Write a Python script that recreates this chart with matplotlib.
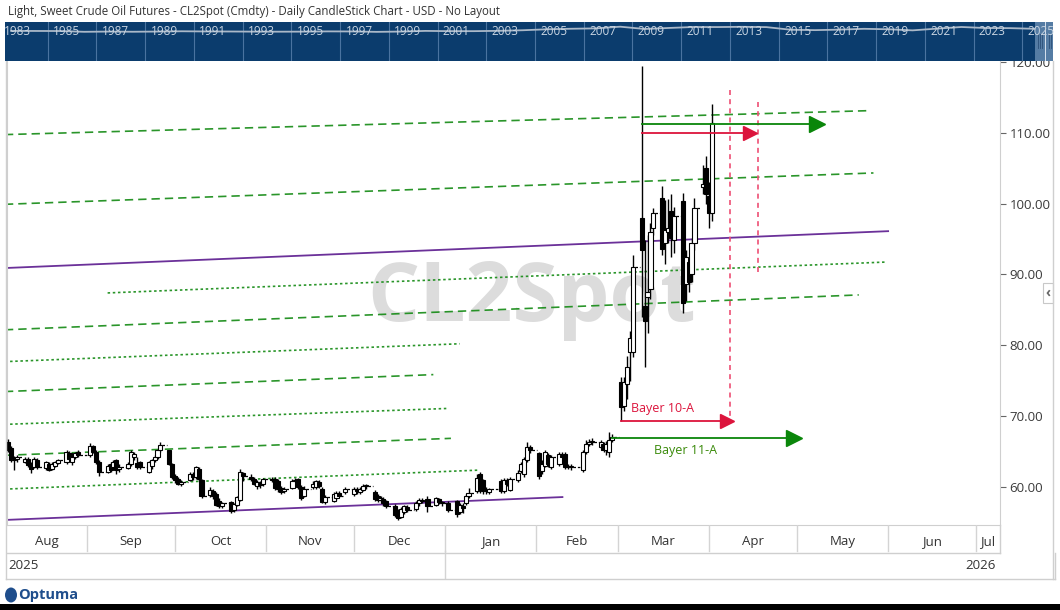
import matplotlib
matplotlib.use("Agg")
import matplotlib.pyplot as plt
import matplotlib.dates as mdates
from matplotlib.patches import Rectangle, Ellipse
from matplotlib.lines import Line2D
from matplotlib.ticker import FormatStrFormatter
import numpy as np
import pandas as pd

plt.rcParams['font.family'] = ['Open Sans', 'DejaVu Sans']

W, H = 1060, 610
title = "Light, Sweet Crude Oil Futures - CL2Spot (Cmdty) - Daily CandleStick Chart - USD - No Layout"

# trading days, Aug 2025 - Apr 2026 (exchange holidays removed)
first_day, last_day = "2025-08-05", "2026-04-02"
holidays = ["2025-09-01", "2025-11-27", "2025-12-25", "2026-01-01", "2026-01-19", "2026-02-16"]

opens = [
    66.3, 65.5, 63.8, 64.0, 63.6, 64.0, 63.3, 62.9, 63.8, 62.7, 63.3, 62.6, 63.0, 63.4, 63.6, 64.8, 63.5, 64.3, 64.9,  # Aug
    64.5, 65.8, 65.0, 63.5, 62.2, 63.3, 62.8, 63.8, 62.5, 62.7, 63.2, 64.3, 63.4, 63.5, 62.2, 63.0, 63.8, 64.2, 65.2, 65.2, 63.3,  # Sep
    61.6, 61.2, 60.5, 61.0, 61.9, 61.4, 62.6, 61.0, 58.9, 59.5, 59.0, 58.1, 57.3, 57.9, 56.8, 57.5, 58.2, 62.0, 61.5, 61.2, 60.1, 60.6, 60.4,  # Oct
    61.2, 61.2, 60.8, 59.9, 59.4, 59.9, 60.8, 61.2, 60.0, 58.8, 60.0, 60.0, 60.7, 59.8, 57.9, 58.0, 58.4, 59.2, 59.3,  # Nov
    59.0, 59.7, 59.3, 59.6, 60.1, 59.3, 58.8, 58.2, 58.3, 58.0, 57.4, 56.6, 55.8, 56.5, 57.2, 56.9, 57.7, 58.2, 58.3, 57.5, 58.3, 57.9,  # Dec
    57.8, 58.0, 56.5, 57.4, 57.7, 58.8, 59.4, 61.8, 61.0, 59.4, 59.3, 60.9, 59.4, 61.0, 59.6, 61.0, 62.3, 61.8, 63.8, 65.6,  # Jan
    64.8, 62.3, 63.0, 64.5, 62.9, 63.2, 64.6, 64.7, 62.9, 62.8, 62.4, 64.9, 66.1, 66.4, 65.7, 66.1, 65.2, 64.9, 66.6,  # Feb
    74.8, 71.5, 74.5, 79.0, 79.0, 97.9, 85.6, 86.8, 88.0, 96.6, 100.8, 94.4, 96.0, 99.0, 94.8, 100.4, 88.7, 91.7, 90.0, 94.5,
    102.4, 105.0, 101.0, 98.7,  # Mar / Apr
]
highs = [
    66.8, 65.8, 64.4, 64.5, 64.3, 64.2, 63.5, 64.2, 64.1, 63.7, 63.5, 63.5, 63.7, 64.0, 65.2, 65.1, 64.5, 65.0, 65.2,
    66.2, 66.0, 65.2, 63.8, 63.2, 63.6, 63.8, 64.0, 63.2, 63.5, 65.2, 65.0, 64.2, 63.7, 63.7, 64.0, 64.5, 65.4, 66.4, 65.2, 63.4,
    61.9, 61.4, 61.0, 62.1, 62.2, 63.0, 62.8, 61.2, 60.0, 59.8, 59.3, 58.4, 57.9, 58.0, 57.8, 58.8, 62.5, 62.2, 61.8, 61.4, 61.0, 60.9, 61.3,
    61.5, 61.4, 61.1, 60.2, 60.0, 61.1, 61.3, 61.3, 60.3, 60.2, 60.8, 61.0, 61.0, 60.0, 58.9, 59.3, 59.5, 59.4, 60.0,
    60.0, 60.0, 60.0, 60.4, 60.5, 59.6, 59.0, 58.8, 58.6, 58.2, 57.6, 56.9, 57.2, 57.5, 57.5, 58.1, 58.5, 58.4, 58.8, 58.6, 58.5, 58.0,
    58.0, 58.2, 57.8, 57.8, 59.0, 59.9, 61.8, 62.2, 61.2, 60.0, 59.9, 61.2, 61.3, 61.3, 61.5, 62.4, 63.6, 64.3, 66.4, 66.0,
    65.0, 63.8, 65.3, 64.8, 64.6, 65.0, 65.0, 65.0, 63.3, 63.2, 65.2, 66.6, 66.8, 66.9, 66.6, 66.4, 66.5, 67.8, 67.5,
    75.5, 75.5, 78.5, 82.0, 92.7, 119.4, 94.8, 95.5, 97.2, 99.3, 102.5, 100.5, 100.7, 101.4, 99.5, 101.5, 93.4, 92.5, 95.1, 100.8,
    105.4, 106.7, 103.0, 114.1,
]
lows = [
    65.0, 63.5, 62.4, 63.6, 63.4, 62.9, 62.0, 62.7, 62.6, 62.4, 62.3, 62.4, 62.8, 63.2, 63.3, 63.7, 63.1, 64.0, 64.2,
    64.3, 64.8, 63.2, 61.6, 62.0, 62.2, 62.6, 61.8, 62.2, 62.5, 63.0, 63.8, 62.6, 62.6, 62.0, 62.6, 63.5, 64.0, 65.0, 63.1, 61.2,
    60.6, 60.3, 60.2, 60.8, 61.0, 61.2, 60.9, 58.5, 58.6, 58.3, 57.3, 57.0, 57.0, 56.4, 56.5, 57.3, 58.0, 60.9, 60.9, 60.3, 59.8, 59.9, 60.1,
    60.7, 59.6, 59.3, 59.0, 59.2, 59.7, 60.5, 59.8, 58.2, 58.6, 59.7, 59.8, 59.9, 57.7, 57.6, 57.9, 58.2, 58.6, 59.1,
    58.8, 59.1, 59.1, 59.4, 59.8, 58.1, 57.9, 57.9, 57.4, 57.0, 55.8, 55.3, 55.6, 56.2, 56.5, 56.7, 57.4, 57.8, 56.5, 57.3, 57.6, 57.4,
    56.5, 55.8, 56.2, 56.4, 57.5, 58.5, 59.2, 59.2, 59.1, 59.1, 59.1, 59.2, 59.2, 60.2, 59.4, 60.7, 62.0, 61.4, 63.5, 64.8,
    61.2, 61.8, 62.8, 62.9, 62.6, 63.0, 63.9, 62.6, 62.5, 62.4, 62.1, 64.7, 65.8, 65.9, 65.5, 64.9, 64.5, 64.3, 66.3,
    69.3, 70.8, 72.5, 75.0, 78.3, 84.0, 76.9, 81.8, 86.5, 95.5, 92.8, 91.5, 94.5, 92.4, 93.0, 84.5, 86.3, 87.5, 89.0, 93.5,
    101.4, 100.0, 96.6, 97.6,
]
closes = [
    65.2, 63.8, 64.0, 64.3, 64.0, 63.1, 62.6, 64.0, 62.8, 63.5, 62.4, 63.3, 63.5, 63.8, 65.0, 63.9, 64.3, 64.8, 64.5,
    65.8, 65.0, 63.5, 62.2, 63.0, 62.4, 63.5, 62.4, 62.8, 63.3, 65.0, 64.7, 62.9, 62.8, 63.5, 63.8, 64.3, 65.2, 66.0, 63.3, 61.5,
    61.0, 60.5, 60.7, 61.9, 61.4, 62.8, 61.1, 58.7, 59.6, 58.7, 57.5, 57.3, 57.7, 56.6, 57.6, 58.6, 62.1, 61.6, 61.2, 60.5, 60.7, 60.3, 61.2,
    61.0, 59.9, 59.7, 59.3, 59.8, 60.8, 61.0, 60.0, 58.4, 59.8, 60.5, 60.8, 60.2, 57.9, 58.6, 59.1, 59.2, 58.8, 59.8,
    59.7, 59.4, 59.7, 60.2, 60.2, 58.3, 58.2, 58.5, 57.7, 57.4, 56.0, 55.6, 56.9, 57.3, 56.8, 57.8, 58.2, 58.1, 57.3, 58.4, 57.9, 57.7,
    56.8, 56.2, 57.5, 57.0, 58.8, 59.2, 61.3, 59.6, 59.4, 59.6, 59.7, 59.5, 61.0, 60.5, 61.2, 62.0, 63.3, 64.0, 65.7, 65.2,
    61.6, 63.3, 64.9, 63.3, 64.3, 64.7, 64.2, 62.8, 62.8, 62.9, 64.9, 66.1, 66.4, 66.3, 66.4, 65.2, 66.1, 66.6, 67.1,
    71.3, 74.8, 77.0, 81.0, 91.0, 93.4, 83.5, 87.5, 96.0, 98.7, 93.6, 96.2, 96.5, 95.2, 98.3, 86.0, 92.4, 89.0, 94.5, 99.4,
    102.8, 101.4, 98.7, 111.3,
]

# drawn lines: start date, start price, end date, end price, style, colour
trend_lines = [
    ("2025-08-04", 90.90, "2026-06-01", 96.10, "solid", "#5b1a8e"),
    ("2025-08-04", 55.37, "2026-02-10", 58.60, "solid", "#5b1a8e"),
    ("2025-08-04", 109.72, "2026-05-25", 113.09, "dashed", "#138a13"),
    ("2025-08-04", 99.89, "2026-05-27", 104.31, "dashed", "#138a13"),
    ("2025-09-08", 87.39, "2026-05-31", 91.74, "dotted", "#138a13"),
    ("2025-08-04", 82.19, "2026-05-22", 87.11, "dashed", "#138a13"),
    ("2025-08-04", 77.70, "2026-01-06", 80.22, "dotted", "#138a13"),
    ("2025-08-04", 73.48, "2025-12-28", 75.87, "dashed", "#138a13"),
    ("2025-08-04", 68.85, "2026-01-02", 71.10, "dotted", "#138a13"),
    ("2025-08-04", 64.49, "2026-01-03", 66.88, "dashed", "#138a13"),
    ("2025-08-04", 59.72, "2026-01-12", 62.39, "dotted", "#138a13"),
]
# horizontal projection arrows: start date, tip date, price, colour, head size
arrows = [
    ("2026-03-02", "2026-04-09 12:00", 69.3, "#dc143c", 10),
    ("2026-02-27", "2026-05-02 16:00", 67.0, "#0a860a", 11.5),
    ("2026-03-09", "2026-05-10 12:00", 111.26, "#0a860a", 11),
    ("2026-03-09", "2026-04-17 10:00", 110.0, "#dc143c", 10.5),
]
# vertical time markers: date, top price, bottom price
time_marks = [("2026-04-08 05:00", 116.0, 69.3), ("2026-04-17 16:00", 114.3, 89.8)]
labels = [("Bayer 10-A", "2026-03-16", 71.1, "#dc143c"), ("Bayer 11-A", "2026-03-24", 65.1, "#3a8a0a")]

price_ticks = [60, 70, 80, 90, 100, 110, 120]
view = ("2025-08-04 17:00", "2026-07-09 03:00")
price_range = (54.66, 120.1)

# navigator: yearly average price since 1983
nav_years = list(range(1983, 2026))
nav_prices = [30, 29, 28, 15, 19, 16, 19, 24, 21, 20, 18, 17, 18, 22, 21, 14, 19, 30, 26, 26, 31, 41,
              57, 66, 72, 100, 62, 79, 95, 94, 98, 93, 49, 43, 51, 65, 57, 39, 68, 95, 78, 76, 65]
nav_labels = list(range(1983, 2026, 2))


def fbox(x0, y0, x1, y1):
    return [x0 / W, 1 - y1 / H, (x1 - x0) / W, (y1 - y0) / H]


fig = plt.figure(figsize=(W / 100, H / 100), dpi=100)
fig.patch.set_facecolor("white")

# ---- price panel
ax = fig.add_axes(fbox(7, 61, 1000, 525))
days = pd.bdate_range(first_day, last_day)
days = days[~days.isin(pd.to_datetime(holidays))]
assert len(days) == len(opens) == len(highs) == len(lows) == len(closes)
x = mdates.date2num(days)
o, h, l, c = map(np.array, (opens, highs, lows, closes))
up = c >= o
bw = 1.4

ax.text(0.528, 0.487, "CL2Spot", transform=ax.transAxes, fontsize=59, fontweight="bold",
        color="#dcdcdc", ha="center", va="center", zorder=0)

styles = {"solid": "-", "dashed": (0, (5, 3)), "dotted": (0, (1.5, 1.6))}
for d0, p0, d1, p1, st, col in trend_lines:
    ax.plot(pd.to_datetime([d0, d1]), [p0, p1], color=col, ls=styles[st],
            lw=1.3 if st == "solid" else 1.2, alpha=0.9, zorder=2)

for d, top, bot_p in time_marks:
    ax.plot(pd.to_datetime([d, d]), [top, bot_p], color="#ee4f74", ls=(0, (3, 2.5)), lw=1.2, zorder=2)

# weekend / holiday gaps
for i in np.where(np.diff(x) > 1.5)[0]:
    ax.plot([x[i] + bw / 2, x[i + 1] - bw / 2], [c[i], c[i]], color="black", lw=0.9,
            ls=(0, (2, 1.5)), zorder=3)

ax.vlines(x, l, h, color="black", lw=1.0, zorder=3)
ax.bar(x, np.maximum(np.abs(c - o), 0.15), bw, np.minimum(o, c),
       color=np.where(up, "white", "black"), edgecolor="black", lw=0.8, zorder=4)

for d0, tip, p, col, ms in arrows:
    tip = pd.Timestamp(tip)
    head = pd.Timedelta(days=ms / 0.72 / 2 / 2.934)
    ax.plot([pd.Timestamp(d0), tip - head], [p, p], color=col, lw=1.3, zorder=5)
    ax.plot([tip - head], [p], marker=">", ms=ms, color=col, mec=col, zorder=5)

for txt, d, p, col in labels:
    ax.text(pd.Timestamp(d), p, txt, color=col, fontsize=9, ha="center", va="center", zorder=5)

ax.set_xlim(pd.Timestamp(view[0]), pd.Timestamp(view[1]))
ax.set_ylim(*price_range)
ax.yaxis.tick_right()
ax.set_yticks(price_ticks)
ax.yaxis.set_major_formatter(FormatStrFormatter("%.2f"))
ax.tick_params(axis="y", length=4, color="#666666", labelsize=9.5, labelcolor="#3a3a3a", pad=3)
ax.tick_params(axis="x", bottom=False, labelbottom=False)
ax.spines["top"].set_visible(False)
for s in ["left", "right", "bottom"]:
    ax.spines[s].set_color("#cfcfcf")

# ---- navigator band
nav = fig.add_axes(fbox(5, 22, 1053, 61))
nav.set_zorder(5)
nav.set_facecolor("#0b3c6d")
nav.set_xlim(1983.25, 2026.26)
nav.set_ylim(-470, 178)
for yr in range(1985, 2026, 2):
    nav.axvline(yr, color="#4a73a0", lw=0.8)
nav.plot(np.array(nav_years) + 0.5, nav_prices, color="#aab8c8", lw=1.3)
for yr in nav_labels:
    nav.text(yr + 0.22, 0.76, str(yr), transform=nav.get_xaxis_transform(), color="#c9d5e2",
             fontsize=8.5, va="center", ha="left")


def nav_year(px):
    return 1985 + (px - 47.6) / 24.37


nav.add_patch(Rectangle((nav_year(1035), -470), nav_year(1053) - nav_year(1035), 648,
                        facecolor="#5a80a8", edgecolor="none", alpha=0.95))
for gx in [1038, 1040, 1042, 1049, 1051]:
    nav.plot([nav_year(gx)] * 2, [-250, -20], color="#2c4f78", lw=0.6)
nav.plot([nav_year(1045.5)] * 2, [-470, 178], color="#d8e2ee", lw=0.7)
nav.set_xticks([])
nav.set_yticks([])
for s in nav.spines.values():
    s.set_visible(False)

# ---- date rows
bot = fig.add_axes(fbox(7, 525, 1000, 579))
bot.set_xlim(ax.get_xlim())
bot.set_ylim(0, 1)
bot.axis("off")
x0, x1 = ax.get_xlim()
months = pd.date_range("2025-08-01", "2026-08-01", freq="MS")
for m0, m1 in zip(months[:-1], months[1:]):
    a, b = max(mdates.date2num(m0), x0), min(mdates.date2num(m1), x1)
    if mdates.date2num(m0) > x0:
        bot.plot([m0, m0], [0.52, 1], color="#d4d4d4", lw=1)
    bot.text((a + b) / 2, 0.70, m0.strftime("%b"), ha="center", va="center", fontsize=9.5, color="#333333")
bot.plot([pd.Timestamp("2026-01-01")] * 2, [0, 0.52], color="#d4d4d4", lw=1)
bot.text(0.001, 0.25, "2025", transform=bot.transAxes, ha="left", va="center", fontsize=9.5, color="#333333")
bot.text(0.996, 0.25, "2026", transform=bot.transAxes, ha="right", va="center", fontsize=9.5, color="#333333")

# ---- frame lines and decorations
frame = [((7, 1000), (553, 553)), ((6, 1055), (579, 579)), ((6, 6), (61, 579)),
         ((1053, 1053), (61, 579)), ((1000, 1000), (525, 553)), ((1055, 1055), (553, 579))]
for xs, ys in frame:
    fig.add_artist(Line2D([v / W for v in xs], [1 - v / H for v in ys], color="#cfcfcf", lw=1))

fig.add_artist(Rectangle((1043 / W, 1 - 303 / H), 10 / W, 20 / H, transform=fig.transFigure,
                         facecolor="white", edgecolor="#c8c8c8", lw=0.8))
fig.text(1048 / W, 1 - 293 / H, "‹", ha="center", va="center", fontsize=10, color="#666666",
         fontweight="bold")

fig.text(8 / W, 1 - 12 / H, title, fontsize=8.3, color="#333333", va="center", ha="left")

fig.add_artist(Ellipse((11 / W, 1 - 595 / H), 12 / W, 15 / H, transform=fig.transFigure,
                       facecolor="#1f4e8c", edgecolor="none"))
fig.text(18 / W, 1 - 595 / H, "Optuma", fontsize=10.5, fontweight="bold", color="#1f4e8c", va="center")
fig.add_artist(Rectangle((0, 0), 1, 6 / H, transform=fig.transFigure, facecolor="black", edgecolor="none"))

fig.savefig("out.png", dpi=100)
